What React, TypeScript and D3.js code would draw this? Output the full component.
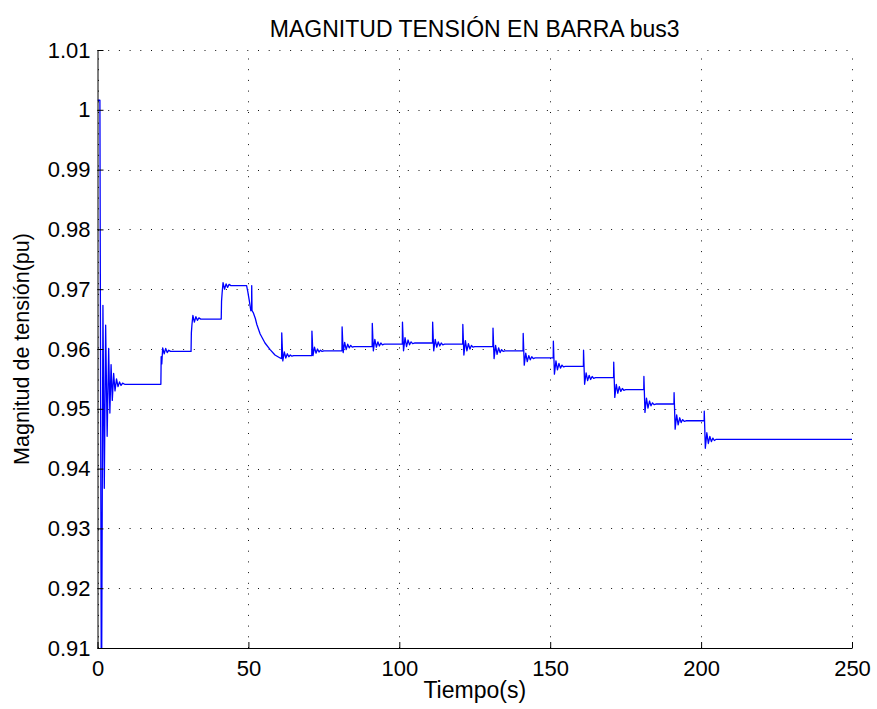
import React, { useEffect, useRef } from "react";
import * as d3 from "d3";

// Arranque: transitorio inicial (t, tensión pu)
const arranque: [number, number][] = [
  [0, 1.0016], [0.8, 1.0016], [1.3, 0.895], [1.8, 0.9673], [2.25, 0.9367],
  [2.7, 0.964], [3.2, 0.9454], [3.7, 0.9601], [4.1, 0.9493], [4.5, 0.9574],
  [4.9, 0.9514], [5.35, 0.9559], [5.8, 0.953], [6.3, 0.955], [6.8, 0.9537],
  [7.3, 0.9545], [7.8, 0.9539], [8.3, 0.9543], [9, 0.9541],
];

// Escalones de subida en t = 21, 31, 41
const escalones: [number, number][] = [
  [21.0, 0.9541], [21.1, 0.9587], [21.3, 0.9575], [21.6, 0.9602], [22.1, 0.9592],
  [22.6, 0.9601], [23.1, 0.9594], [23.6, 0.9598], [24.2, 0.9596],
  [31.0, 0.9596], [31.1, 0.9627], [31.3, 0.9641], [31.6, 0.9656], [32.1, 0.9645],
  [32.6, 0.9654], [33.1, 0.9648], [33.6, 0.9652], [34.2, 0.965],
  [41.0, 0.965], [41.1, 0.968], [41.3, 0.9694], [41.6, 0.9711], [42.1, 0.97],
  [42.6, 0.9709], [43.1, 0.9703], [43.6, 0.9708], [44.2, 0.9706],
  [49.4, 0.9706],
];

// Caída y recuperación entre 49 y 61 s
const caida: [number, number][] = [
  [49.8, 0.9696], [50.3, 0.9681], [50.8, 0.9664], [51.05, 0.9668], [51.1, 0.9706],
  [51.2, 0.9664], [51.6, 0.9661], [52.3, 0.9651], [52.8, 0.9641], [53.9, 0.9625],
  [55.5, 0.961], [57.2, 0.9599], [58.8, 0.959], [60.5, 0.9585], [61.0, 0.9584],
];

const instantesEvento = [61, 71, 81, 91, 101, 111, 121, 131, 141, 151, 161, 171, 181, 191, 201];
const desfaseRizado = [0, 0.05, 0.4, 0.9, 1.4, 1.9, 2.4, 2.9, 3.4, 4.0, 5.0];
const rizadoEventos = [
  [0.9584, 0.9627, 0.958, 0.9595, 0.9585, 0.9592, 0.9587, 0.959, 0.9588, 0.9589, 0.9589],
  [0.9589, 0.963, 0.9589, 0.9603, 0.9593, 0.96, 0.9595, 0.9598, 0.9596, 0.9597, 0.9597],
  [0.9597, 0.9637, 0.9594, 0.9611, 0.9599, 0.9608, 0.9602, 0.9606, 0.9603, 0.9604, 0.9604],
  [0.9604, 0.9643, 0.9597, 0.9616, 0.9603, 0.9612, 0.9605, 0.961, 0.9607, 0.9608, 0.9608],
  [0.9608, 0.9645, 0.9597, 0.9619, 0.9604, 0.9615, 0.9607, 0.9612, 0.9609, 0.961, 0.961],
  [0.961, 0.9645, 0.9597, 0.9616, 0.9603, 0.9612, 0.9605, 0.961, 0.9607, 0.9608, 0.9608],
  [0.9608, 0.9641, 0.959, 0.9614, 0.9597, 0.9609, 0.96, 0.9606, 0.9603, 0.9604, 0.9604],
  [0.9604, 0.9635, 0.9584, 0.9606, 0.9591, 0.9602, 0.9594, 0.9599, 0.9596, 0.9597, 0.9597],
  [0.9597, 0.9626, 0.9573, 0.9593, 0.9579, 0.9589, 0.9582, 0.9587, 0.9584, 0.9585, 0.9585],
  [0.9585, 0.9613, 0.9558, 0.958, 0.9565, 0.9576, 0.9568, 0.9573, 0.957, 0.9571, 0.9571],
  [0.9571, 0.9598, 0.9541, 0.956, 0.9547, 0.9556, 0.9549, 0.9554, 0.9551, 0.9552, 0.9552],
  [0.9552, 0.9578, 0.9519, 0.9541, 0.9526, 0.9537, 0.9529, 0.9534, 0.9531, 0.9532, 0.9532],
  [0.9532, 0.9554, 0.9494, 0.9518, 0.9501, 0.9513, 0.9505, 0.951, 0.9507, 0.9508, 0.9508],
  [0.9508, 0.9527, 0.9466, 0.949, 0.9473, 0.9485, 0.9477, 0.9482, 0.9479, 0.948, 0.948],
  [0.948, 0.9496, 0.9434, 0.946, 0.9442, 0.9454, 0.9445, 0.9451, 0.9447, 0.9449, 0.9449],
];
const tramoFinal: [number, number][] = [[250, 0.9449]];

const xTicks = [0, 50, 100, 150, 200, 250];
const yTicks = [0.91, 0.92, 0.93, 0.94, 0.95, 0.96, 0.97, 0.98, 0.99, 1.0, 1.01];
const yTickLabels = ["0.91", "0.92", "0.93", "0.94", "0.95", "0.96", "0.97", "0.98", "0.99", "1", "1.01"];

function App() {
  const ref = useRef<SVGSVGElement>(null);
  const width = 877;
  const height = 709;
  const marginTop = 50;
  const marginRight = 25;
  const marginBottom = 61;
  const marginLeft = 97.5;
  const font = "'Liberation Sans', Arial, Helvetica, sans-serif";

  useEffect(() => {
    const svg = d3.select(ref.current);
    svg.selectAll("*").remove();

    const x = d3.scaleLinear().domain([0, 250]).range([marginLeft, width - marginRight]);
    const y = d3.scaleLinear().domain([0.91, 1.01]).range([height - marginBottom, marginTop]);

    const eventos: [number, number][] = instantesEvento.flatMap((t0, i) =>
      desfaseRizado.map((d, j) => [t0 + d, rizadoEventos[i][j]] as [number, number])
    );
    const data = [...arranque, ...escalones, ...caida, ...eventos, ...tramoFinal];

    svg
      .append("defs")
      .append("clipPath")
      .attr("id", "area")
      .append("rect")
      .attr("x", marginLeft)
      .attr("y", marginTop)
      .attr("width", width - marginLeft - marginRight)
      .attr("height", height - marginTop - marginBottom);

    // Grid punteado
    const grid = svg.append("g").attr("stroke", "#111").attr("stroke-width", 1).attr("stroke-dasharray", "1,9.7");
    grid
      .selectAll("line.v")
      .data(xTicks)
      .join("line")
      .attr("x1", (d) => Math.round(x(d)) + 0.5)
      .attr("x2", (d) => Math.round(x(d)) + 0.5)
      .attr("y1", height - marginBottom)
      .attr("y2", marginTop);
    grid
      .selectAll("line.h")
      .data(yTicks)
      .join("line")
      .attr("x1", marginLeft)
      .attr("x2", width - marginRight)
      .attr("y1", (d) => Math.round(y(d)) + 0.5)
      .attr("y2", (d) => Math.round(y(d)) + 0.5);

    const line = d3
      .line<[number, number]>()
      .x((d) => x(d[0]))
      .y((d) => y(d[1]));

    svg
      .append("path")
      .datum(data)
      .attr("clip-path", "url(#area)")
      .attr("fill", "none")
      .attr("stroke", "#0000ff")
      .attr("stroke-width", 1.3)
      .attr("stroke-linejoin", "round")
      .attr("d", line);

    // Ejes (ticks hacia dentro)
    svg
      .append("g")
      .attr("transform", `translate(0,${height - marginBottom})`)
      .call(d3.axisBottom(x).tickValues(xTicks).tickSize(-6).tickPadding(12).tickSizeOuter(0))
      .call((g) => g.selectAll("text").attr("font-size", 22).attr("font-family", font).attr("fill", "#000"));

    svg
      .append("g")
      .attr("transform", `translate(${marginLeft},0)`)
      .call(
        d3
          .axisLeft(y)
          .tickValues(yTicks)
          .tickFormat((_, i) => yTickLabels[i])
          .tickSize(-6)
          .tickPadding(7)
          .tickSizeOuter(0)
      )
      .call((g) => g.selectAll("text").attr("font-size", 22).attr("font-family", font).attr("fill", "#000"));

    svg
      .append("text")
      .attr("x", (marginLeft + width - marginRight) / 2)
      .attr("y", 37)
      .attr("text-anchor", "middle")
      .attr("font-size", 23)
      .attr("font-family", font)
      .text("MAGNITUD TENSIÓN EN BARRA bus3");

    svg
      .append("text")
      .attr("x", (marginLeft + width - marginRight) / 2)
      .attr("y", 698)
      .attr("text-anchor", "middle")
      .attr("font-size", 23)
      .attr("font-family", font)
      .text("Tiempo(s)");

    svg
      .append("text")
      .attr("transform", `translate(29,${(marginTop + height - marginBottom) / 2}) rotate(-90)`)
      .attr("text-anchor", "middle")
      .attr("font-size", 21.5)
      .attr("font-family", font)
      .text("Magnitud de tensión(pu)");
  }, []);

  return (
    <svg
      ref={ref}
      width={width}
      height={height}
      style={{ position: "absolute", left: 0, top: 0, background: "#fff" }}
    ></svg>
  );
}

export default App;
